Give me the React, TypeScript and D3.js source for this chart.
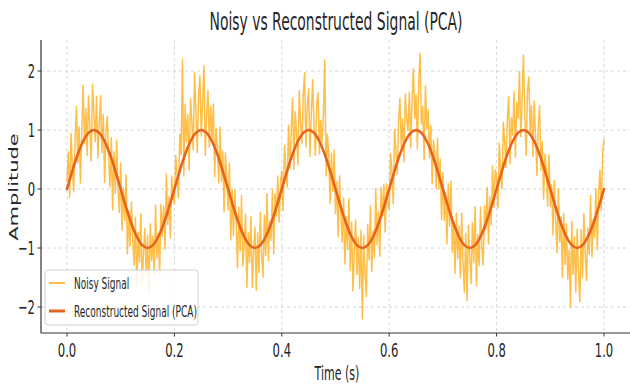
import * as d3 from 'd3'

// Noisy signal samples, evenly spaced from t = 0 to t = 1 s
const noisyValues = [
  0.12, 0.63, -0.14, 0.94, 0.36, -0.04, 0.78, 1.40, 0.44, 1.05, 0.10, 0.98, 1.76, 0.77, 1.36, 0.57, 1.58, 1.07, 0.47, 1.78,
  1.30, 0.80, 1.57, 0.53, 1.10, 1.58, 0.62, 1.26, 0.11, 0.96, 1.23, 0.53, 0.04, 0.87, -0.35, 0.63, -0.07, 0.83, -0.02, -0.40,
  0.44, -0.70, 0.02, -0.53, 0.24, -1.10, -0.37, -0.97, -0.22, -0.85, -1.29, -0.48, -1.66, -0.73, -1.24, -0.42, -1.61, -1.07, -0.67, -1.48,
  -0.79, -1.75, -0.59, -1.22, -0.80, -1.47, -0.27, -1.17, -0.76, -1.44, -0.26, -0.80, -0.29, -1.02, 0.25, -0.60, -0.13, -0.83, 0.22, -0.13,
  -0.25, 0.56, 0.26, -0.15, 0.93, 0.58, 2.20, 0.22, 1.44, 0.80, 1.26, 0.31, 1.53, 1.15, 0.67, 1.97, 1.35, 0.62, 1.57, 1.92,
  0.90, 1.48, 2.09, 0.57, 1.25, 1.67, 0.71, 1.40, 0.86, 1.44, 0.21, 1.03, 0.74, 0.10, 1.05, 0.13, 0.64, -0.39, 0.61, 0.18,
  -0.35, 0.44, -0.86, -0.01, -0.79, -0.02, -0.60, -1.34, -0.31, -1.05, -0.11, -1.31, -0.93, -0.43, -1.67, -0.74, -1.25, -0.47, -1.67, -1.05,
  -0.65, -1.72, -0.74, -1.42, -0.40, -1.12, -1.49, -0.45, -1.13, -0.08, -1.21, -0.53, -0.87, 0.00, -1.10, -0.08, -0.46, 0.22, -0.56, 0.12,
  0.30, -0.37, 0.74, 0.35, 0.03, 1.08, 0.35, 0.97, 1.54, 0.33, 1.31, 0.94, 0.41, 1.67, 1.14, 0.77, 1.60, 1.97, 0.71, 1.42,
  1.70, 0.55, 1.29, 1.85, 1.05, 0.57, 1.44, 1.63, 0.59, 1.16, 0.79, 1.27, 2.19, 0.22, 0.93, 0.53, -0.24, 0.61, -0.04, 0.66,
  -0.42, 0.12, -0.81, 0.22, -0.41, -0.90, -0.15, -1.27, -0.47, -1.03, -0.16, -1.38, -0.56, -1.73, -1.04, -0.52, -1.45, -0.82, -1.69, -0.70,
  -2.20, -0.78, -1.44, -1.82, -0.60, -1.20, -0.29, -1.40, -0.71, -1.16, 0.01, -0.95, -0.39, -1.14, 0.03, -0.46, 0.07, -0.73, 0.09, -0.26,
  -0.35, 0.60, 0.31, -0.25, 1.01, 0.66, 0.25, 1.14, 1.54, 0.70, 1.19, 0.46, 1.61, 1.20, 0.99, 1.64, 0.70, 1.52, 2.04, 1.20,
  1.60, 0.68, 1.84, 2.30, 1.10, 1.40, 0.49, 1.75, 1.03, 1.34, 0.53, 1.07, 0.09, 0.82, 0.60, 0.00, 0.86, 0.01, 0.51, -0.52,
  0.28, -0.53, -0.06, -0.93, 0.09, -0.63, 0.13, -1.07, -0.54, -1.43, -0.41, -1.18, -0.63, -1.50, -0.41, -1.24, -1.75, -0.75, -1.89, -0.62,
  -1.15, -1.60, -0.57, -1.25, -0.30, -1.64, -0.77, -1.30, -0.31, -0.96, -1.29, -0.29, -0.69, 0.03, -0.93, -0.13, -0.61, 0.39, -0.31, 0.32,
  0.20, -0.32, 0.78, 0.31, 0.01, 1.13, 0.80, 0.37, 1.17, 1.57, 0.43, 1.21, 0.91, 1.65, 0.54, 1.47, 1.20, 1.99, 0.89, 1.48,
  2.27, 1.30, 0.57, 1.67, 1.90, 0.97, 1.41, 0.55, 1.49, 0.91, 0.23, 1.05, 1.41, 0.32, 0.80, -0.17, 0.59, 0.33, -0.29, 0.58,
  -0.30, 0.07, -0.78, 0.15, -0.51, -1.08, 0.00, -0.90, -0.47, -1.50, -0.41, -1.28, -0.59, -1.53, -1.04, -2.00, -0.55, -1.45, -0.81, -1.75,
  -0.68, -1.40, -1.91, -0.69, -1.50, -0.42, -1.11, -1.55, -0.66, -1.11, -0.11, -1.15, -0.51, -0.82, 0.00, -1.03, -0.09, 0.32, -0.36, 0.62,
  0.85,
]

// Reconstructed (PCA) signal, evenly spaced from t = 0 to t = 1 s
const reconValues = [
  0, 0.309, 0.588, 0.809, 0.951, 1, 0.951, 0.809, 0.588, 0.309, 0, -0.309, -0.588, -0.809, -0.951, -1, -0.951, -0.809, -0.588, -0.309,
  0, 0.309, 0.588, 0.809, 0.951, 1, 0.951, 0.809, 0.588, 0.309, 0, -0.309, -0.588, -0.809, -0.951, -1, -0.951, -0.809, -0.588, -0.309,
  0, 0.309, 0.588, 0.809, 0.951, 1, 0.951, 0.809, 0.588, 0.309, 0, -0.309, -0.588, -0.809, -0.951, -1, -0.951, -0.809, -0.588, -0.309,
  0, 0.309, 0.588, 0.809, 0.951, 1, 0.951, 0.809, 0.588, 0.309, 0, -0.309, -0.588, -0.809, -0.951, -1, -0.951, -0.809, -0.588, -0.309,
  0, 0.309, 0.588, 0.809, 0.951, 1, 0.951, 0.809, 0.588, 0.309, 0, -0.309, -0.588, -0.809, -0.951, -1, -0.951, -0.809, -0.588, -0.309,
  0,
]

const xTicks = [0, 0.2, 0.4, 0.6, 0.8, 1.0]
const xTickLabels = ['0.0', '0.2', '0.4', '0.6', '0.8', '1.0']
const yTicks = [-2, -1, 0, 1, 2]
const yTickLabels = ['\u22122', '\u22121', '0', '1', '2']

const seriesNames = ['Noisy Signal', 'Reconstructed Signal (PCA)']

const title = 'Noisy vs Reconstructed Signal (PCA)'
const xLabel = 'Time (s)'
const yLabel = 'Amplitude'

const NOISY_COLOR = '#ffa500'
const RECON_COLOR = '#e8621c'
const TEXT_COLOR = '#262626'
const FONT = '"DejaVu Sans", sans-serif'
// the picture is squeezed sideways, so glyphs get narrowed too
const SX = 0.58

function Label({ x, y, size, anchor = 'middle', rotate = false, dy, children }: {
  x: number
  y: number
  size: number
  anchor?: string
  rotate?: boolean
  dy?: string
  children: string
}) {
  return (
    <text
      transform={`translate(${x},${y}) scale(${SX},1)${rotate ? ' rotate(-90)' : ''}`}
      fontSize={size}
      textAnchor={anchor}
      dy={dy}
      fill={TEXT_COLOR}
      fontFamily={FONT}
    >
      {children}
    </text>
  )
}

export default function App() {
  const width = 630
  const height = 385
  const plot = { left: 41, right: 630, top: 40, bottom: 333 }

  const x = d3.scaleLinear().domain([0, 1]).range([67, 604])
  const y = d3.scaleLinear().domain([-2, 2]).range([307, 71])

  const noisyLine = d3.line<number>()
    .x((_, i) => x(i / (noisyValues.length - 1)))
    .y(d => y(d))

  const reconLine = d3.line<number>()
    .x((_, i) => x(i / (reconValues.length - 1)))
    .y(d => y(d))
    .curve(d3.curveCatmullRom)

  const legend = { x: 45, y: 270, w: 153, h: 55 }

  return (
    <svg
      width={width}
      height={height}
      style={{ position: 'absolute', left: 0, top: 0, background: '#fff' }}
    >
      {/* grid */}
      {xTicks.map(t => (
        <line key={`gx${t}`} x1={x(t)} x2={x(t)} y1={plot.top} y2={plot.bottom}
          stroke="#cccccc" strokeWidth={0.8} strokeDasharray="3,3" />
      ))}
      {yTicks.map(t => (
        <line key={`gy${t}`} x1={plot.left} x2={plot.right} y1={y(t)} y2={y(t)}
          stroke="#cccccc" strokeWidth={0.8} strokeDasharray="3,3" />
      ))}

      {/* series */}
      <path d={noisyLine(noisyValues) ?? ''} fill="none" stroke={NOISY_COLOR}
        strokeOpacity={0.72} strokeWidth={1.5} strokeLinejoin="round" />
      <path d={reconLine(reconValues) ?? ''} fill="none" stroke={RECON_COLOR}
        strokeWidth={2.6} strokeLinecap="round" />

      {/* spines */}
      <line x1={plot.left} x2={plot.left} y1={plot.top} y2={plot.bottom} stroke="#333" strokeWidth={1.2} />
      <line x1={plot.left} x2={plot.right} y1={plot.bottom} y2={plot.bottom} stroke="#333" strokeWidth={1.2} />

      {/* ticks */}
      {xTicks.map((t, i) => (
        <g key={`xt${t}`}>
          <line x1={x(t)} x2={x(t)} y1={plot.bottom} y2={plot.bottom + 3.5} stroke="#333" strokeWidth={1} />
          <Label x={x(t)} y={357} size={20}>{xTickLabels[i]}</Label>
        </g>
      ))}
      {yTicks.map((t, i) => (
        <g key={`yt${t}`}>
          <line x1={plot.left - 3.5} x2={plot.left} y1={y(t)} y2={y(t)} stroke="#333" strokeWidth={1} />
          <Label x={35} y={y(t)} size={20} anchor="end" dy="0.36em">{yTickLabels[i]}</Label>
        </g>
      ))}

      {/* labels */}
      <Label x={336} y={30} size={24}>{title}</Label>
      <Label x={337} y={380} size={19}>{xLabel}</Label>
      <Label x={18} y={187} size={21} rotate>{yLabel}</Label>

      {/* legend */}
      <rect x={legend.x} y={legend.y} width={legend.w} height={legend.h} rx={3}
        fill="#fff" fillOpacity={0.85} stroke="#d0d0d0" strokeWidth={1} />
      <line x1={49} x2={65} y1={283} y2={283} stroke={NOISY_COLOR} strokeOpacity={0.72} strokeWidth={2} />
      <Label x={74} y={289} size={15.5} anchor="start">{seriesNames[0]}</Label>
      <line x1={49} x2={65} y1={311} y2={311} stroke={RECON_COLOR} strokeWidth={3} />
      <Label x={74} y={317} size={15.5} anchor="start">{seriesNames[1]}</Label>
    </svg>
  )
}
